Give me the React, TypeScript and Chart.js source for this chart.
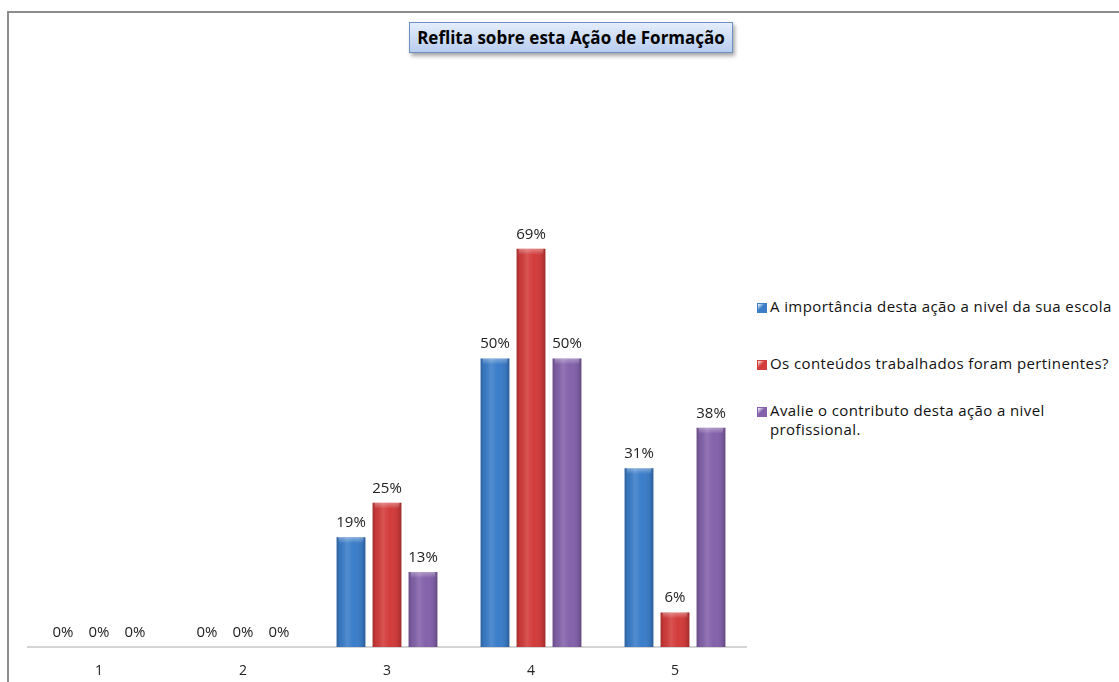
import React, { useEffect, useRef } from "react";
import { Chart, registerables } from "chart.js";
Chart.register(...registerables);

const titleText = "Reflita sobre esta Ação de Formação";
const categories = ["1", "2", "3", "4", "5"];
const seriesNames = [
  "A importância desta ação a nivel da sua escola",
  "Os conteúdos trabalhados foram pertinentes?",
  "Avalie o contributo desta ação a nivel profissional.",
];
const importancia = [0, 0, 19, 50, 31];
const conteudos = [0, 0, 25, 69, 6];
const contributo = [0, 0, 13, 50, 38];
const seriesColors = ["#3b7dc9", "#d23c3b", "#8462ab"];

const FONT = "'Open Sans', Lato, sans-serif";

const barLabels = {
  id: "barLabels",
  afterDatasetsDraw(chart: any) {
    const ctx = chart.ctx;
    ctx.save();
    chart.data.datasets.forEach((ds: any, i: number) => {
      const meta = chart.getDatasetMeta(i);
      meta.data.forEach((el: any, j: number) => {
        const v = ds.data[j];
        const { x, y, base, width } = el.getProps(["x", "y", "base", "width"], true);
        const h = base - y;
        if (h > 1) {
          const left = x - width / 2;
          const g = ctx.createLinearGradient(left, 0, left + width, 0);
          g.addColorStop(0, "rgba(0,0,0,0.22)");
          g.addColorStop(0.12, "rgba(0,0,0,0.05)");
          g.addColorStop(0.35, "rgba(255,255,255,0.12)");
          g.addColorStop(0.6, "rgba(255,255,255,0.0)");
          g.addColorStop(0.88, "rgba(0,0,0,0.08)");
          g.addColorStop(1, "rgba(0,0,0,0.25)");
          ctx.fillStyle = g;
          ctx.fillRect(left, y, width, h);
          const t = ctx.createLinearGradient(0, y, 0, y + 6);
          t.addColorStop(0, "rgba(255,255,255,0.35)");
          t.addColorStop(1, "rgba(255,255,255,0)");
          ctx.fillStyle = t;
          ctx.fillRect(left + 2, y, width - 4, Math.min(6, h));
        }
        ctx.fillStyle = "#222";
        ctx.font = `15px ${FONT}`;
        ctx.textAlign = "center";
        ctx.textBaseline = "bottom";
        ctx.fillText(`${v}%`, x, y - 7);
      });
    });
    ctx.restore();
  },
};

export default function App() {
  const ref = useRef<HTMLCanvasElement | null>(null);
  useEffect(() => {
    if (!ref.current) return;
    const seriesData = [importancia, conteudos, contributo];
    const chart = new Chart(ref.current, {
      type: "bar",
      data: {
        labels: categories,
        datasets: seriesNames.map((name, i) => ({
          label: name,
          data: seriesData[i],
          backgroundColor: seriesColors[i],
          borderWidth: 0,
          categoryPercentage: 0.75,
          barPercentage: 0.8,
        })),
      },
      options: {
        animation: false,
        responsive: false,
        maintainAspectRatio: false,
        layout: { padding: { top: 10, left: 0, right: 0, bottom: 0 } },
        plugins: { legend: { display: false }, tooltip: { enabled: false }, title: { display: false } },
        scales: {
          x: {
            grid: { display: false, drawTicks: false },
            border: { display: true, color: "#d4d4d4", width: 2 },
            ticks: { color: "#222", font: { family: FONT, size: 14 }, padding: 16 },
            afterFit(scale: any) {
              scale.height = 35;
            },
          },
          y: { display: false, min: 0, max: 100 },
        },
      },
      plugins: [barLabels],
    });
    return () => chart.destroy();
  }, []);

  const legendItem = (i: number, top: number, content: React.ReactNode) => (
    <div
      key={i}
      style={{
        position: "absolute",
        left: 757,
        top,
        display: "flex",
        alignItems: "flex-start",
        fontFamily: FONT,
        fontSize: 15,
        letterSpacing: "0.4px",
        lineHeight: "19px",
        color: "#111",
        whiteSpace: "nowrap",
      }}
    >
      <span
        style={{
          display: "inline-block",
          width: 8,
          height: 8,
          marginTop: 6,
          marginRight: 3,
          background: `linear-gradient(135deg, #fff8 0%, ${seriesColors[i]} 45%, ${seriesColors[i]} 100%)`,
          border: `1px solid ${seriesColors[i]}`,
        }}
      />
      <span>{content}</span>
    </div>
  );

  return (
    <div style={{ position: "fixed", left: 0, top: 0, width: 1119, height: 682, background: "#fff", overflow: "hidden" }}>
      <div
        style={{
          position: "absolute",
          left: 7,
          top: 11,
          right: 0,
          bottom: -5,
          borderTop: "2px solid #8d8d8d",
          borderLeft: "2px solid #8d8d8d",
        }}
      />
      <div
        style={{
          position: "absolute",
          left: 409,
          top: 22,
          width: 322,
          height: 29,
          border: "1px solid #6d8fc4",
          background: "linear-gradient(#e4edfb, #b8cdee)",
          boxShadow: "2px 3px 4px rgba(0,0,0,0.35)",
          fontFamily: FONT,
          fontWeight: "bold",
          fontSize: 17,
          lineHeight: "29px",
          textAlign: "center",
          color: "#000",
          whiteSpace: "nowrap",
        }}
      >
        {titleText}
      </div>
      <canvas ref={ref} width={720} height={622} style={{ position: "absolute", left: 27, top: 60 }} />
      {legendItem(0, 297, seriesNames[0])}
      {legendItem(1, 354, seriesNames[1])}
      {legendItem(2, 401, <>Avalie o contributo desta ação a nivel<br />profissional.</>)}
    </div>
  );
}
